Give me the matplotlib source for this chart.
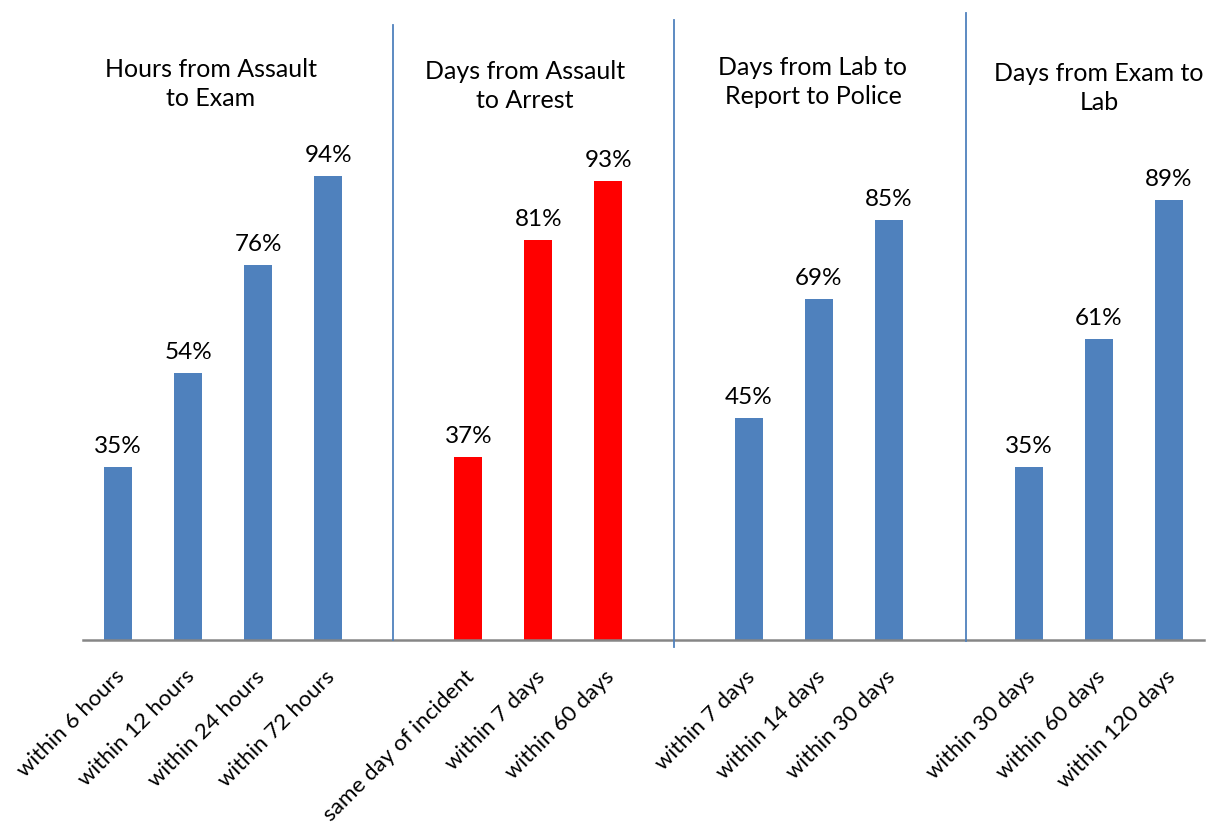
import matplotlib
matplotlib.use("Agg")
import matplotlib.pyplot as plt
import matplotlib.transforms as mtransforms

plt.rcParams['font.family'] = ['Lato', 'DejaVu Sans']

# ---- data ----
group_titles = ["Hours from Assault\nto Exam", "Days from Assault\nto Arrest",
                "Days from Lab to\nReport to Police", "Days from Exam to\nLab"]
g1_labels = ["within 6 hours", "within 12 hours", "within 24 hours", "within 72 hours"]
g1_values = [35, 54, 76, 94]
g2_labels = ["same day of incident", "within 7 days", "within 60 days"]
g2_values = [37, 81, 93]
g3_labels = ["within 7 days", "within 14 days", "within 30 days"]
g3_values = [45, 69, 85]
g4_labels = ["within 30 days", "within 60 days", "within 120 days"]
g4_values = [35, 61, 89]

BLUE = "#4F81BD"
RED = "#FF0000"
groups = [(g1_labels, g1_values, BLUE), (g2_labels, g2_values, RED),
          (g3_labels, g3_values, BLUE), (g4_labels, g4_values, BLUE)]

W, H = 1208, 827
fig = plt.figure(figsize=(W / 100, H / 100), dpi=100)
ax = fig.add_axes([83 / W, 1 - 640 / H, (1204 - 83) / W, 494 / H])

xs, labels = [], []
pos = 0
for gi, (lab, vals, col) in enumerate(groups):
    gx = list(range(pos, pos + len(vals)))
    ax.bar(gx, vals, width=0.4, color=col, zorder=2)
    for x, v in zip(gx, vals):
        ax.annotate(f"{v}%", (x, v), xytext=(0, 10), textcoords='offset pixels',
                    ha='center', va='bottom', fontsize=17.5, color='black')
    xs += gx
    labels += lab
    pos += len(vals) + 1

ax.set_xlim(-0.5, pos - 1.5)
ax.set_ylim(0, 100)
ax.set_xticks(xs)
ax.set_xticklabels(labels, rotation=45, ha='right', rotation_mode='anchor', fontsize=16.2)
ax.tick_params(axis='x', length=0, pad=19)
shift = mtransforms.ScaledTranslation(-4 / 100, 0, fig.dpi_scale_trans)
for lbl in ax.get_xticklabels():
    lbl.set_transform(lbl.get_transform() + shift)
ax.set_yticks([])
for s in ['top', 'right', 'left']:
    ax.spines[s].set_visible(False)
ax.spines['bottom'].set_color('#868686')
ax.spines['bottom'].set_linewidth(1.8)

# separator lines (figure pixel positions)
seps = [(393, 25, 640), (674, 20, 647), (966, 13, 641)]
for x, y0, y1 in seps:
    fig.add_artist(plt.Line2D([x / W, x / W], [1 - y0 / H, 1 - y1 / H],
                              color=BLUE, lw=1.3, transform=fig.transFigure))

# group titles
title_pos = [(211, 84), (525, 86), (813, 82), (1099, 88)]
for t, (px, py) in zip(group_titles, title_pos):
    fig.text(px / W, 1 - py / H, t, ha='center', va='center', fontsize=18,
             linespacing=1.3, color='black')

fig.savefig("out.png", dpi=100)
